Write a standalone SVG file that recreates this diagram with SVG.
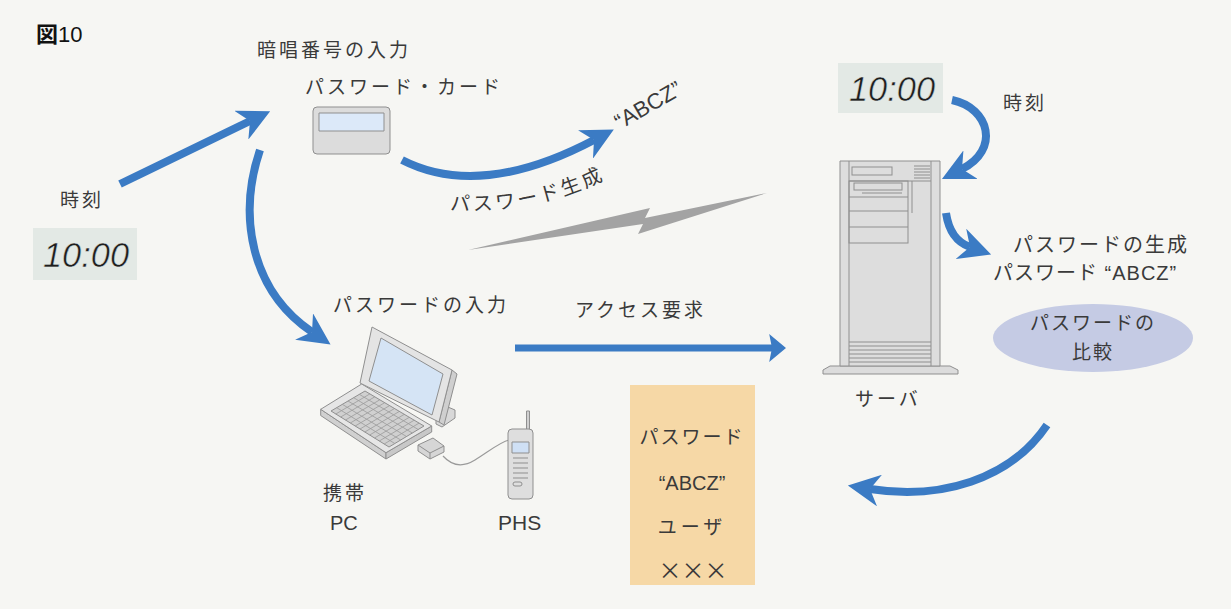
<svg xmlns="http://www.w3.org/2000/svg" width="1231" height="609" viewBox="0 0 1231 609">
  <defs>
    <style>
      .t { font-family: "Liberation Sans", "Noto Sans CJK JP", sans-serif; font-size: 20px; fill: #3a3a3a; }
      .jp { font-family: "Noto Sans CJK JP", sans-serif; font-size: 19px; fill: #3a3a3a; letter-spacing: 3px; }
      .clk { font-family: "Liberation Sans", sans-serif; font-style: italic; font-size: 35px; fill: #1e1e1e; stroke: #e3e9e5; stroke-width: 0.5; }
      .clkbox { fill: #e3e9e5; }
      .arrow { fill: none; stroke: #3b7bc4; stroke-width: 8; marker-end: url(#ah); }
      .dev { stroke: #8f8f8f; stroke-width: 1; stroke-linejoin: round; }
      .ln { stroke: #8f8f8f; stroke-width: 1; fill: none; }
      .kb { stroke: #9a9a9a; stroke-width: 0.8; fill: none; }
    </style>
    <marker id="ah" viewBox="0 0 10 10" refX="3" refY="5" markerWidth="4" markerHeight="4" orient="auto" markerUnits="strokeWidth">
      <path d="M0,0 L10,5 L0,10 L3,5 z" fill="#3b7bc4"/>
    </marker>
    <marker id="ah2" viewBox="0 0 6 10" refX="1" refY="5" markerWidth="2.4" markerHeight="4" orient="auto" markerUnits="strokeWidth">
      <path d="M0,0 L6,5 L0,10 L1,5 z" fill="#3b7bc4"/>
    </marker>
    <path id="genPath" d="M450,210 Q540,215 615,174"/>
  </defs>

  <rect width="1231" height="609" fill="#f6f6f3"/>

  <!-- figure title -->
  <text class="t" x="36" y="42" style="fill:#111;font-size:22px"><tspan font-weight="bold" style="font-family:'Noto Sans CJK JP',sans-serif">図</tspan>10</text>

  <!-- password card -->
  <g id="card">
    <text class="jp" x="257" y="57">暗唱番号の入力</text>
    <text class="jp" x="305" y="94">パスワード・カード</text>
    <rect x="313" y="107" width="77" height="47" rx="4" fill="#dcdcdc" class="dev"/>
    <rect x="319" y="113" width="65" height="18" fill="#dce9f9" class="dev"/>
  </g>

  <!-- clock (left) -->
  <g id="clockLeft">
    <text class="jp" x="60" y="207">時刻</text>
    <rect class="clkbox" x="33" y="228" width="104" height="52"/>
    <text class="clk" x="43" y="267" textLength="86" lengthAdjust="spacingAndGlyphs">10:00</text>
  </g>

  <!-- generated password -->
  <g id="generated">
    <text class="t" x="620" y="130" transform="rotate(-30 620 130)" style="font-size:22px">“ABCZ”</text>
    <text class="jp" style="font-size:20px;letter-spacing:3px"><textPath href="#genPath">パスワード生成</textPath></text>
  </g>

  <!-- wireless link -->
  <g id="link">
    <polygon points="468,250 650,208 645,218 767,193 638,234 643,224" fill="#a3a3a3"/>
  </g>

  <!-- clock (right) -->
  <g id="clockRight">
    <rect class="clkbox" x="838" y="63" width="105" height="50"/>
    <text class="clk" x="849" y="101" textLength="86" lengthAdjust="spacingAndGlyphs">10:00</text>
    <text class="jp" x="1003" y="110">時刻</text>
  </g>

  <!-- server -->
  <g id="server">
    <polygon points="830,366 950,366 958,370 958,374 823,374 823,370" fill="#dcdcdc" class="dev"/>
    <rect x="840" y="161" width="100" height="205" fill="#dddddd" class="dev"/>
    <line class="ln" x1="849" y1="161" x2="849" y2="366"/>
    <line class="ln" x1="931" y1="161" x2="931" y2="366"/>
    <rect x="852" y="167" width="40" height="8" fill="none" class="ln"/>
    <path class="ln" d="M914,166 H930 M914,169 H930 M914,172 H930 M914,175 H930 M914,178 H930"/>
    <line class="ln" x1="849" y1="181" x2="931" y2="181"/>
    <rect x="849" y="181" width="59" height="62" fill="none" class="ln"/>
    <rect x="854" y="183" width="48" height="7" fill="none" class="ln"/>
    <path class="ln" d="M862,193 H902 M849,197 H908 M849,211 H908 M849,227 H908 M912,181 V213"/>
    <path class="ln" d="M849,342 H931 M849,346 H931 M849,350 H931 M849,354 H931 M849,358 H931 M849,362 H931"/>
    <text class="jp" x="855" y="406">サーバ</text>
  </g>

  <!-- server-side password generation -->
  <g id="serverGen">
    <text class="jp" style="font-size:20px;letter-spacing:2px" x="1013" y="252">パスワードの生成</text>
    <text class="t" style="font-size:20px;letter-spacing:1px" x="993" y="280">パスワード “ABCZ”</text>
  </g>

  <!-- comparison -->
  <g id="compare">
    <ellipse cx="1093" cy="338" rx="100" ry="34" fill="#c5cbe4"/>
    <text class="jp" x="1093" y="330" text-anchor="middle" style="letter-spacing:2px">パスワードの</text>
    <text class="jp" x="1093" y="359" text-anchor="middle" style="letter-spacing:2px">比較</text>
  </g>

  <!-- user record -->
  <g id="record">
    <rect x="630" y="385" width="125" height="200" fill="#f6d8a6"/>
    <text class="jp" x="692" y="444" text-anchor="middle" style="letter-spacing:2px">パスワード</text>
    <text class="t" x="692" y="490" text-anchor="middle">“ABCZ”</text>
    <text class="jp" x="692" y="534" text-anchor="middle" style="letter-spacing:4px">ユーザ</text>
    <text class="jp" x="693" y="579" text-anchor="middle" style="font-size:23px;letter-spacing:0px">×××</text>
  </g>

  <!-- portable PC with PHS -->
  <g id="laptop">
    <text class="jp" x="333" y="312">パスワードの入力</text>
    <polygon points="436,402 455,410 455,418 442,427 436,424" fill="#d8d8d8" class="dev"/>
    <polygon points="320.7,409.3 386,452.7 386,459 320.7,415.5" fill="#d0d0d0" class="dev"/>
    <polygon points="386,452.7 431.7,426 431.7,432 386,459" fill="#c8c8c8" class="dev"/>
    <polygon points="320.7,409.3 361.7,384 431.7,426 386,452.7" fill="#e6e6e6" class="dev"/>
    <polygon points="331,411 365,391 424,426 389,447" fill="#d0d0d0" class="dev"/>
    <path class="kb" d="M336.7,407.7 L394.8,443.5 M342.3,404.3 L400.7,440 M348,401 L406.5,436.5 M353.7,397.7 L412.3,433 M359.3,394.3 L418.2,429.5
      M335.8,414 L369.9,393.9 M340.7,417 L374.8,396.8 M345.5,420 L379.8,399.8 M350.3,423 L384.7,402.7 M355.2,426 L389.6,405.6 M360,429 L394.5,408.5
      M364.8,432 L399.4,411.4 M369.7,435 L404.3,414.3 M374.5,438 L409.3,417.3 M379.3,441 L414.2,420.2 M384.2,444 L419.1,423.1"/>
    <polygon points="452,370 457,374 444,425 439,422" fill="#cfcfcf" class="dev"/>
    <polygon points="372,327 452,370 439,422 360,383" fill="#e4e4e4" class="dev"/>
    <polygon points="381,338 443,374 432,415 369,381" fill="#d5e4f5" class="dev"/>
    <polygon points="418,445 433,438 444,446 444,452 430,459 418,451" fill="#d6d6d6" class="dev"/>
    <path class="ln" d="M430,459 L430,453 L418,445 M430,453 L444,446"/>
    <path d="M443,456 C452,466 462,468 475,460 S500,442 509,440" fill="none" stroke="#9a9a9a" stroke-width="1.2"/>
    <rect x="526.5" y="411" width="3" height="19" fill="#d0d0d0" class="dev"/>
    <rect x="508" y="429" width="25" height="70" rx="4" fill="#dedede" class="dev"/>
    <rect x="512" y="442" width="17" height="11" fill="#cfe0f5" class="dev"/>
    <path class="ln" d="M513,458 H528 M513,463 H528 M513,468 H528 M513,473 H528 M513,478 H528"/>
    <rect x="513" y="482" width="9" height="4" rx="2" fill="none" class="ln"/>
    <text class="jp" x="323" y="500">携帯</text>
    <text class="t" x="330" y="530" style="font-size:20px">PC</text>
    <text class="t" x="498" y="530" style="font-size:21px">PHS</text>
  </g>

  <text class="jp" x="575" y="317">アクセス要求</text>

  <!-- connectors -->
  <g id="connectors">
    <path class="arrow" d="M120,184 L250,121"/>
    <path class="arrow" d="M260,150 C238,215 250,290 312,332"/>
    <path class="arrow" d="M402,160 Q480,200 594,140"/>
    <path class="arrow" d="M952,100 C990,108 1000,150 962,169"/>
    <path class="arrow" d="M946,213 Q950,240 970,247"/>
    <path d="M515,348 L772,348" fill="none" stroke="#3b7bc4" stroke-width="7" marker-end="url(#ah2)"/>
    <path class="arrow" d="M1047,425 C1010,480 940,500 870,489"/>
  </g>
</svg>
